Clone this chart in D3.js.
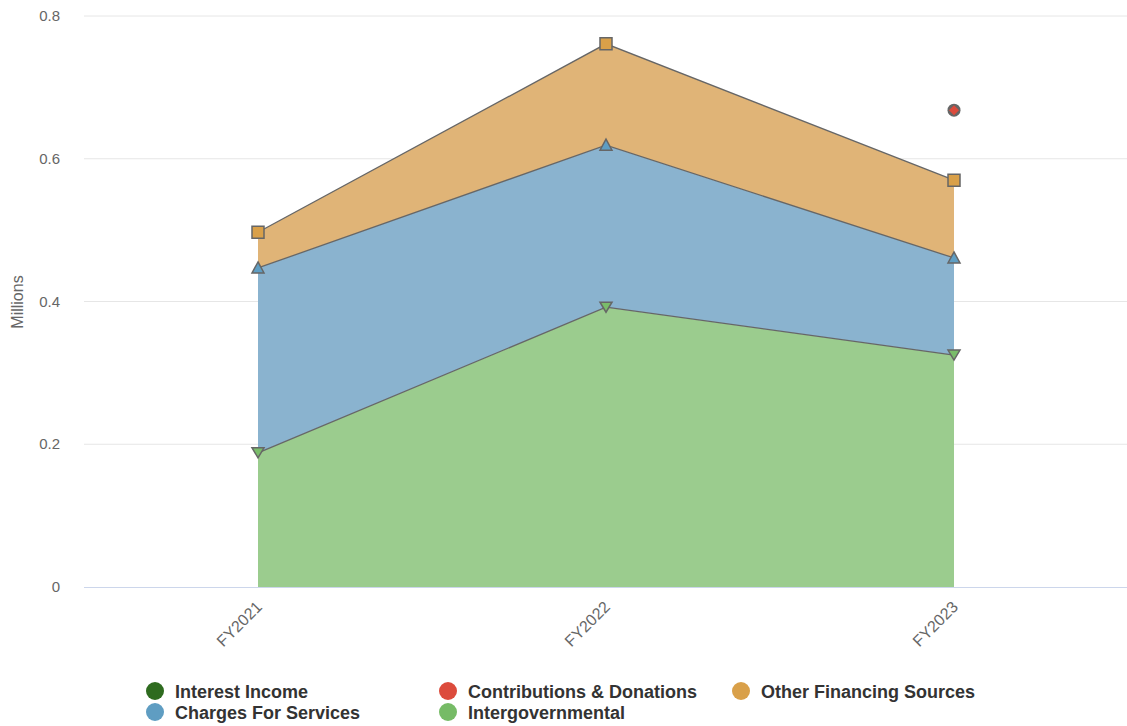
<!DOCTYPE html>
<html><head><meta charset="utf-8">
<script src="https://cdn.jsdelivr.net/npm/d3@7"></script>
<style>body{margin:0;background:#fff;font-family:"Liberation Sans",Arial,sans-serif;}</style>
</head><body><svg id="c" width="1127" height="726"></svg>
<script>
const categories = ["FY2021","FY2022","FY2023"];
const interestIncome = [null,null,null];
const contributions = [null,null,0.098];
const otherFinancing = [0.050,0.142,0.109];
const chargesForServices = [0.259,0.227,0.136];
const intergovernmental = [0.188,0.392,0.325];
const yTicks = [0,0.2,0.4,0.6,0.8];
const legendNames = ["Interest Income","Contributions & Donations","Other Financing Sources","Charges For Services","Intergovernmental"];
const legendColors = ["#2e6b1f","#dc4b3c","#d9a049","#5f9dc2","#76bb66"];

const svg = d3.select("#c");
const x = d3.scalePoint().domain(categories).range([84,1128]).padding(0.5);
const y = d3.scaleLinear().domain([0,0.8]).range([587,16]);

// grid
svg.append("g").selectAll("line").data(yTicks.filter(d=>d>0)).join("line")
  .attr("x1",84).attr("x2",1127).attr("y1",d=>y(d)).attr("y2",d=>y(d))
  .attr("stroke","#e6e6e6").attr("stroke-width",1);
svg.append("g").selectAll("text").data(yTicks).join("text")
  .attr("x",60).attr("y",d=>y(d)+5).attr("text-anchor","end")
  .attr("font-size",15).attr("fill","#666").text(d=>d===0?"0":d3.format(".1f")(d));
svg.append("text").attr("transform","translate(23,302) rotate(-90)").attr("text-anchor","middle")
  .attr("font-size",16).attr("fill","#666").text("Millions");

// stacking (bottom to top)
const layers = [
  {vals:intergovernmental, fill:"#9bcc8e", mcol:"#7abd6a", shape:"down"},
  {vals:chargesForServices, fill:"#8ab3cf", mcol:"#5f9ec3", shape:"up"},
  {vals:otherFinancing, fill:"#e0b477", mcol:"#d9a049", shape:"square"},
  {vals:contributions, fill:"#e37b6f", mcol:"#dc4b3c", shape:"diamond"}
];
let base = categories.map(()=>0);
layers.forEach(L=>{
  L.pts = categories.map((c,i)=>{
    const v = L.vals[i];
    return {c, y0:base[i], y1: v==null?null:base[i]+v};
  });
  L.pts.forEach((p,i)=>{ if(p.y1!=null) base[i]=p.y1; });
});
const area = d3.area().defined(d=>d.y1!=null).x(d=>x(d.c)).y0(d=>y(d.y0)).y1(d=>y(d.y1));
const line = d3.line().defined(d=>d.y1!=null).x(d=>x(d.c)).y(d=>y(d.y1));
const ga = svg.append("g");
layers.forEach(L=>{
  ga.append("path").attr("d",area(L.pts)).attr("fill",L.fill).attr("stroke","none");
});
layers.forEach(L=>{
  ga.append("path").attr("d",line(L.pts)).attr("fill","none").attr("stroke","#666").attr("stroke-width",1.3);
});
// axis line
svg.append("line").attr("x1",84).attr("x2",1127).attr("y1",587.5).attr("y2",587.5).attr("stroke","#ccd6eb");

// markers
function shapePath(s){
  if(s==="down") return "M-6,-5L6,-5L0,5Z";
  if(s==="up") return "M0,-6L6,5L-6,5Z";
  if(s==="square") return "M-6,-6L6,-6L6,6L-6,6Z";
  return "M0,-5L5,0L0,5L-5,0Z";
}
layers.forEach(L=>{
  const g = ga.append("g").selectAll("g").data(L.pts.filter(p=>p.y1!=null)).join("g")
    .attr("transform",p=>`translate(${x(p.c)},${y(p.y1)})`);
  if(L.shape==="diamond"){
    g.append("circle").attr("r",6.5).attr("fill","#666");
    g.append("path").attr("d",shapePath(L.shape)).attr("fill",L.mcol);
  } else {
    g.append("path").attr("d",shapePath(L.shape)).attr("fill",L.mcol).attr("stroke","#666").attr("stroke-width",1.5);
  }
});

// x labels
svg.append("g").selectAll("text").data(categories).join("text")
  .attr("transform",d=>`translate(${x(d)+5},${608}) rotate(-45)`)
  .attr("text-anchor","end").attr("font-size",16).attr("fill","#666").text(d=>d);

// legend
const lx=[155,448,741], ly=[691,712];
const lg = svg.append("g");
legendNames.forEach((n,i)=>{
  const cx = lx[i%3], cy = ly[Math.floor(i/3)];
  lg.append("circle").attr("cx",cx).attr("cy",cy).attr("r",9).attr("fill",legendColors[i]);
  lg.append("text").attr("x",cx+20).attr("y",cy+7).attr("font-size",18).attr("font-weight","bold")
    .attr("fill","#333").text(n);
});
</script></body></html>
